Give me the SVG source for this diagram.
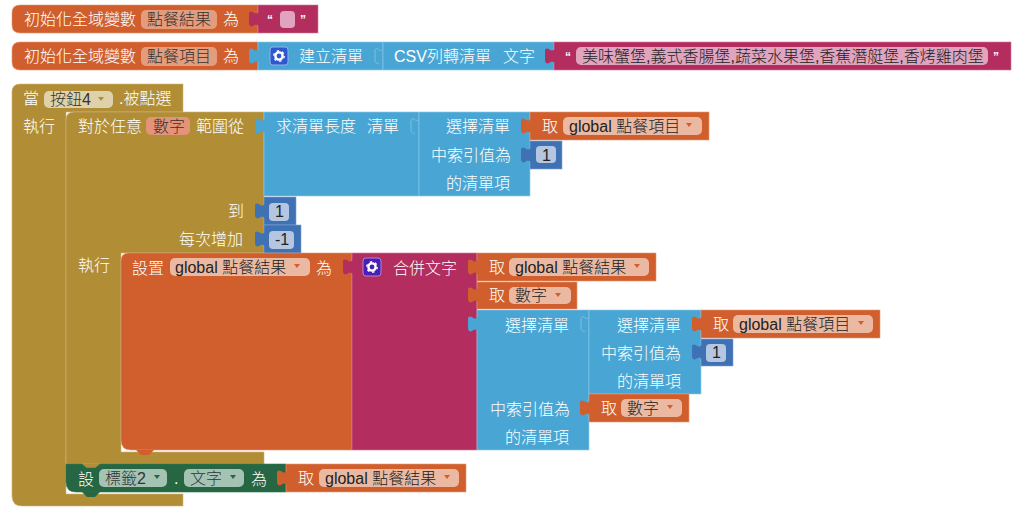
<svg xmlns="http://www.w3.org/2000/svg" xmlns:xlink="http://www.w3.org/1999/xlink" width="1024" height="511" viewBox="0 0 1024 511">
<style>
text{font-family:"Liberation Sans","Noto Sans CJK TC",sans-serif;font-size:16px;font-weight:300;fill:#fff}
.f{fill:#222}
.v{fill:#333}
.o{fill:#D05F2D;stroke:#E39A79;stroke-width:.6}
.m{fill:#B32D5E;stroke:#D07C9C;stroke-width:.6}
.b{fill:#49A6D4;stroke:#8CCBE8;stroke-width:.6}
.n{fill:#3F71B5;stroke:#7FA2D0;stroke-width:.6}
.y{fill:#B18E35;stroke:#CDB779;stroke-width:.6}
.g{fill:#266643;stroke:#2E7850;stroke-width:.6}
.to{fill:#D05F2D}.tm{fill:#B32D5E}.tb{fill:#49A6D4}.tn{fill:#3F71B5}.ti{fill:none;stroke:#7DBEDD;stroke-width:1}
.fo{fill:#EBB9A2}.fv{fill:#E39C7C}.fm{fill:#E0A4BE}.fn{fill:#B5C6E0}.fy{fill:#DFD1A9}.fg{fill:#A4C3B3}.fr{fill:#E59378}
.ao{fill:#D05F2D}.ay{fill:#B18E35}.ag{fill:#266643}
.q{font-size:12px;font-weight:bold}
</style>
<defs>
<path id="tab" d="M1 6C-1 8-3 8-5 6C-7 5-9 5-9 8V17C-9 20-7 21-5 20C-3 18-1 18 1 20Z"/>
<path id="inner" d="M0 6C-1 8-3 8-5 6C-7 5-8 6-8 8V17C-8 20-6 21-4 20"/>
<path id="arr" d="M-3 0H3L0 4Z"/>
<g id="gear"><circle r="3.6" fill="none" stroke="#fff" stroke-width="2.4"/><circle r="5.2" fill="none" stroke="#fff" stroke-width="1.4" stroke-dasharray="2.4 3"/></g>
</defs>

<g id="connectors"></g>

<g id="init-result">
<path class="o" d="M20 5H258V33H20Q12 33 12 25V13Q12 5 20 5Z"/>
<text x="24" y="25">初始化全域變數</text>
<rect class="fv" x="141" y="10" width="76" height="19" rx="5"/><text class="v" x="147" y="25">點餐結果</text>
<text x="223" y="25">為</text>
</g>
<g id="empty-string">
<rect class="m" x="258" y="5" width="60" height="28"/>
<use href="#tab" class="tm" x="258" y="6"/>
<text class="q" x="267" y="24">“</text>
<rect class="fm" x="280" y="11" width="15" height="17" rx="4"/>
<text class="q" x="300" y="24">”</text>
</g>

<g id="init-items">
<path class="o" d="M20 42H258V70H20Q12 70 12 62V50Q12 42 20 42Z"/>
<text x="24" y="62">初始化全域變數</text>
<rect class="fv" x="141" y="47" width="76" height="19" rx="5"/><text class="v" x="147" y="62">點餐項目</text>
<text x="223" y="62">為</text>
</g>
<g id="make-list">
<rect class="b" x="258" y="42" width="125" height="28"/>
<use href="#tab" class="tb" x="258" y="43"/>
<rect x="270" y="47" width="18" height="18" rx="3" fill="#2F58D0" stroke="#8FB0EA"/>
<use href="#gear" transform="translate(279 56)"/>
<text x="299" y="62">建立清單</text>
</g>
<g id="csv-list">
<rect class="b" x="383" y="42" width="171" height="28"/>
<use href="#inner" class="ti" x="383" y="43"/>
<text x="394" y="62">CSV列轉清單</text><text x="503" y="62">文字</text>
</g>
<g id="items-string">
<rect class="m" x="554" y="42" width="457" height="28"/>
<use href="#tab" class="tm" x="554" y="43"/>
<text class="q" x="565" y="61">“</text>
<rect class="fm" x="576" y="47" width="412" height="18" rx="5"/>
<text class="f" x="582" y="62">美味蟹堡,義式香腸堡,蔬菜水果堡,香蕉潛艇堡,香烤雞肉堡</text>
<text class="q" x="993" y="61">”</text>
</g>

<g id="event">
<path class="y" d="M20 84H183V112H66V494H183V506H22Q12 506 12 496V92Q12 84 20 84Z"/>
<text x="23" y="104">當</text>
<rect class="fy" x="44" y="91" width="69" height="17" rx="5"/><text class="v" x="50" y="105">按鈕4</text>
<use href="#arr" class="ay" x="101" y="97"/>
<text x="119" y="104">.被點選</text>
<text x="23" y="132">執行</text>
</g>

<g id="for-range">
<path class="y" d="M74 112H264V253H121V452H264V464H66V120Q66 112 74 112Z"/>
<text x="78" y="132">對於任意</text>
<rect class="fr" x="146" y="117" width="44" height="18" rx="5"/><text class="v" x="153" y="132">數字</text>
<text x="196" y="132">範圍從</text>
<text x="228" y="217">到</text>
<text x="179" y="245">每次增加</text>
<text x="78" y="271">執行</text>
</g>

<g id="list-length">
<rect class="b" x="264" y="112" width="155" height="84"/>
<use href="#tab" class="tb" x="264" y="113"/>
<text x="276" y="132">求清單長度</text><text x="367" y="132">清單</text>
</g>
<g id="select-1">
<rect class="b" x="419" y="112" width="111" height="84"/>
<use href="#inner" class="ti" x="419" y="113"/>
<text x="446" y="132">選擇清單</text>
<text x="431" y="161">中索引值為</text>
<text x="446" y="189">的清單項</text>
</g>
<g id="get-items-1">
<rect class="o" x="530" y="112" width="179" height="28"/>
<use href="#tab" class="to" x="530" y="113"/>
<text x="542" y="132">取</text>
<rect class="fo" x="563" y="117" width="139" height="18" rx="5"/>
<text class="f" x="569" y="132">global 點餐項目</text>
<use href="#arr" class="ao" x="689" y="123"/>
</g>
<g id="num-1a">
<rect class="n" x="530" y="141" width="32" height="28"/>
<use href="#tab" class="tn" x="530" y="142"/>
<rect class="fn" x="536" y="146" width="20" height="17" rx="4"/><text class="f" x="542" y="161">1</text>
</g>
<g id="num-to">
<rect class="n" x="264" y="197" width="32" height="28"/>
<use href="#tab" class="tn" x="264" y="198"/>
<rect class="fn" x="269" y="203" width="20" height="18" rx="4"/><text class="f" x="275" y="217">1</text>
</g>
<g id="num-step">
<rect class="n" x="264" y="225" width="37" height="28"/>
<use href="#tab" class="tn" x="264" y="226"/>
<rect class="fn" x="269" y="231" width="25" height="18" rx="4"/><text class="f" x="275" y="245">-1</text>
</g>

<g id="set-result">
<path class="o" d="M129 253H352V450H131Q121 450 121 440V261Q121 253 129 253Z"/>
<path class="ao" d="M136 450H154L149 455H141Z"/>
<text x="132" y="274">設置</text>
<rect class="fo" x="170" y="258" width="140" height="18" rx="5"/>
<text class="f" x="175" y="273">global 點餐結果</text>
<use href="#arr" class="ao" x="297" y="264"/>
<text x="316" y="274">為</text>
</g>
<g id="join">
<rect class="m" x="352" y="253" width="125" height="197"/>
<use href="#tab" class="tm" x="352" y="254"/>
<rect x="363" y="258" width="18" height="18" rx="3" fill="#4A1FB8" stroke="#A98AD8"/>
<use href="#gear" transform="translate(372 267)"/>
<text x="393" y="274">合併文字</text>
</g>
<g id="get-result-1">
<rect class="o" x="477" y="253" width="179" height="28"/>
<use href="#tab" class="to" x="477" y="254"/>
<text x="489" y="273">取</text>
<rect class="fo" x="509" y="258" width="140" height="18" rx="5"/>
<text class="f" x="515" y="273">global 點餐結果</text>
<use href="#arr" class="ao" x="637" y="264"/>
</g>
<g id="get-number-1">
<rect class="o" x="477" y="282" width="100" height="27"/>
<use href="#tab" class="to" x="477" y="282"/>
<text x="489" y="301">取</text>
<rect class="fo" x="509" y="287" width="62" height="17" rx="5"/>
<text class="f" x="515" y="301">數字</text>
<use href="#arr" class="ao" x="558" y="293"/>
</g>
<g id="select-outer">
<rect class="b" x="477" y="310" width="112" height="140"/>
<use href="#tab" class="tb" x="477" y="311"/>
<text x="505" y="331">選擇清單</text>
<text x="490" y="415">中索引值為</text>
<text x="505" y="443">的清單項</text>
</g>
<g id="select-inner">
<rect class="b" x="589" y="310" width="112" height="84"/>
<use href="#inner" class="ti" x="589" y="311"/>
<text x="617" y="331">選擇清單</text>
<text x="601" y="359">中索引值為</text>
<text x="617" y="387">的清單項</text>
</g>
<g id="get-items-2">
<rect class="o" x="701" y="310" width="179" height="28"/>
<use href="#tab" class="to" x="701" y="311"/>
<text x="713" y="330">取</text>
<rect class="fo" x="733" y="315" width="140" height="18" rx="5"/>
<text class="f" x="739" y="330">global 點餐項目</text>
<use href="#arr" class="ao" x="861" y="321"/>
</g>
<g id="num-1b">
<rect class="n" x="701" y="339" width="32" height="27"/>
<use href="#tab" class="tn" x="701" y="339"/>
<rect class="fn" x="706" y="344" width="20" height="18" rx="4"/><text class="f" x="712" y="358">1</text>
</g>
<g id="get-number-2">
<rect class="o" x="589" y="394" width="100" height="28"/>
<use href="#tab" class="to" x="589" y="395"/>
<text x="601" y="414">取</text>
<rect class="fo" x="621" y="399" width="61" height="18" rx="5"/>
<text class="f" x="627" y="414">數字</text>
<use href="#arr" class="ao" x="670" y="405"/>
</g>

<g id="set-label">
<path d="M82 464H100L95 468H87Z" fill="#B18E35"/>
<path class="g" d="M66 464H82L87 468H95L100 464H286V492H76Q66 492 66 482Z"/>
<path class="ag" d="M82 492H100L95 497H87Z"/>
<text x="78" y="485">設</text>
<rect class="fg" x="99" y="469" width="68" height="18" rx="5"/><text class="v" x="105" y="484">標籤2</text>
<use href="#arr" class="ag" x="157" y="475"/>
<text x="174" y="484">.</text>
<rect class="fg" x="184" y="469" width="60" height="18" rx="5"/><text class="v" x="190" y="484">文字</text>
<use href="#arr" class="ag" x="233" y="475"/>
<text x="251" y="485">為</text>
</g>
<g id="get-result-2">
<rect class="o" x="286" y="464" width="180" height="28"/>
<use href="#tab" class="to" x="286" y="465"/>
<text x="298" y="484">取</text>
<rect class="fo" x="319" y="469" width="140" height="18" rx="5"/>
<text class="f" x="325" y="484">global 點餐結果</text>
<use href="#arr" class="ao" x="447" y="475"/>
</g>
</svg>
